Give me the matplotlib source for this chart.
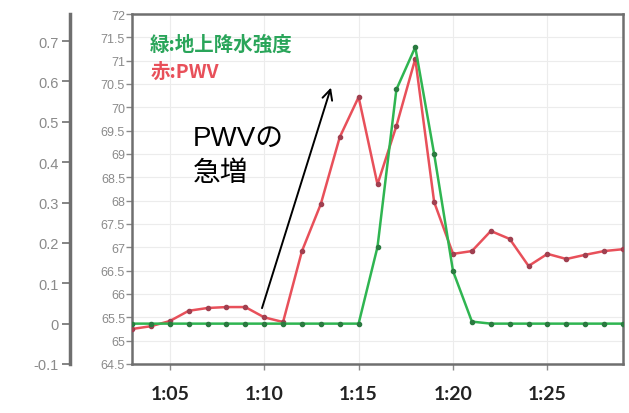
import matplotlib.pyplot as plt

plt.rcParams['font.family'] = ['Noto Sans CJK JP', 'DejaVu Sans']

# minutes after 1:00
minutes = [3, 4, 5, 6, 7, 8, 9, 10, 11, 12, 13, 14, 15, 16,
           17, 18, 19, 20, 21, 22, 23, 24, 25, 26, 27, 28, 29]
pwv = [65.25, 65.31, 65.42, 65.64, 65.70, 65.72, 65.72, 65.50, 65.40,
       66.92, 67.93, 69.36, 70.22, 68.35, 69.60, 71.04, 67.97, 66.86,
       66.92, 67.35, 67.18, 66.60, 66.86, 66.75, 66.84, 66.92, 66.96]
rain = [0, 0, 0, 0, 0, 0, 0, 0, 0, 0, 0, 0, 0, 0.19,
        0.58, 0.685, 0.42, 0.13, 0.005, 0, 0, 0, 0, 0, 0, 0, 0]

xticks = [5, 10, 15, 20, 25]
xlabels = ['1:05', '1:10', '1:15', '1:20', '1:25']
pwv_ticks = [64.5, 65, 65.5, 66, 66.5, 67, 67.5, 68, 68.5, 69, 69.5,
             70, 70.5, 71, 71.5, 72]
pwv_labels = ['64.5', '65', '65.5', '66', '66.5', '67', '67.5', '68', '68.5',
              '69', '69.5', '70', '70.5', '71', '71.5', '72']
rain_ticks = [-0.1, 0, 0.1, 0.2, 0.3, 0.4, 0.5, 0.6, 0.7]
rain_labels = ['-0.1', '0', '0.1', '0.2', '0.3', '0.4', '0.5', '0.6', '0.7']

red = '#e8505a'
green = '#2fb551'
grey = '#8a8a8a'

fig = plt.figure(figsize=(6.29, 4.14), dpi=100)
ax = fig.add_axes([132 / 629, 49 / 414, 491 / 629, 350 / 414])

ax.set_xlim(3, 29)
ax.set_ylim(64.5, 72)
ax.set_xticks(xticks)
ax.set_xticklabels(xlabels, fontsize=14, fontweight='bold', color='#222222',
                   family='Lato')
ax.set_yticks(pwv_ticks)
ax.set_yticklabels(pwv_labels, fontsize=9, color=grey,
                   family='Liberation Sans')
ax.tick_params(axis='y', length=4, width=1, color=grey, pad=1)
ax.tick_params(axis='x', length=4, width=1, color=grey, pad=11)
ax.grid(True, color='#ececec', lw=0.8)
for s in ax.spines.values():
    s.set_color('#6f6f6f')
    s.set_linewidth(1.8)

ax.plot(minutes, pwv, color=red, lw=1.8, marker='o', ms=3,
        mfc='#a04050', mec='#a04050', zorder=3)

ax2 = ax.twinx()
ax2.set_ylim(-0.1, 0.767)
ax2.yaxis.set_ticks_position('left')
ax2.yaxis.set_label_position('left')
ax2.spines['left'].set_position(('axes', -0.126))
ax2.spines['left'].set_color('#6f6f6f')
ax2.spines['left'].set_linewidth(2.5)
for side in ['right', 'top', 'bottom']:
    ax2.spines[side].set_visible(False)
ax2.set_yticks(rain_ticks)
ax2.set_yticklabels(rain_labels, fontsize=10.5, color=grey,
                    family='Liberation Sans')
ax2.tick_params(axis='y', length=6, width=1.2, color='#6f6f6f', pad=2)

ax2.plot(minutes, rain, color=green, lw=1.8, marker='o', ms=3,
         mfc='#2a7a40', mec='#2a7a40', zorder=2)

ax.text(0.037, 0.914, '緑:地上降水強度', transform=ax.transAxes,
        fontsize=14, fontweight='bold', color='#2aa55a', va='center')
ax.text(0.037, 0.837, '赤:PWV', transform=ax.transAxes,
        fontsize=14, fontweight='bold', color=red, va='center')
ax.text(0.124, 0.682, 'PWVの\n急増', transform=ax.transAxes,
        fontsize=20, color='black', va='top', linespacing=1.45,
        family=['Liberation Sans', 'Noto Sans CJK JP'])
ax.annotate('', xy=(13.58, 70.48), xytext=(9.84, 65.64),
            arrowprops=dict(arrowstyle='->', color='black', lw=1.4,
                            mutation_scale=18))

fig.savefig('out.png', dpi=100)
